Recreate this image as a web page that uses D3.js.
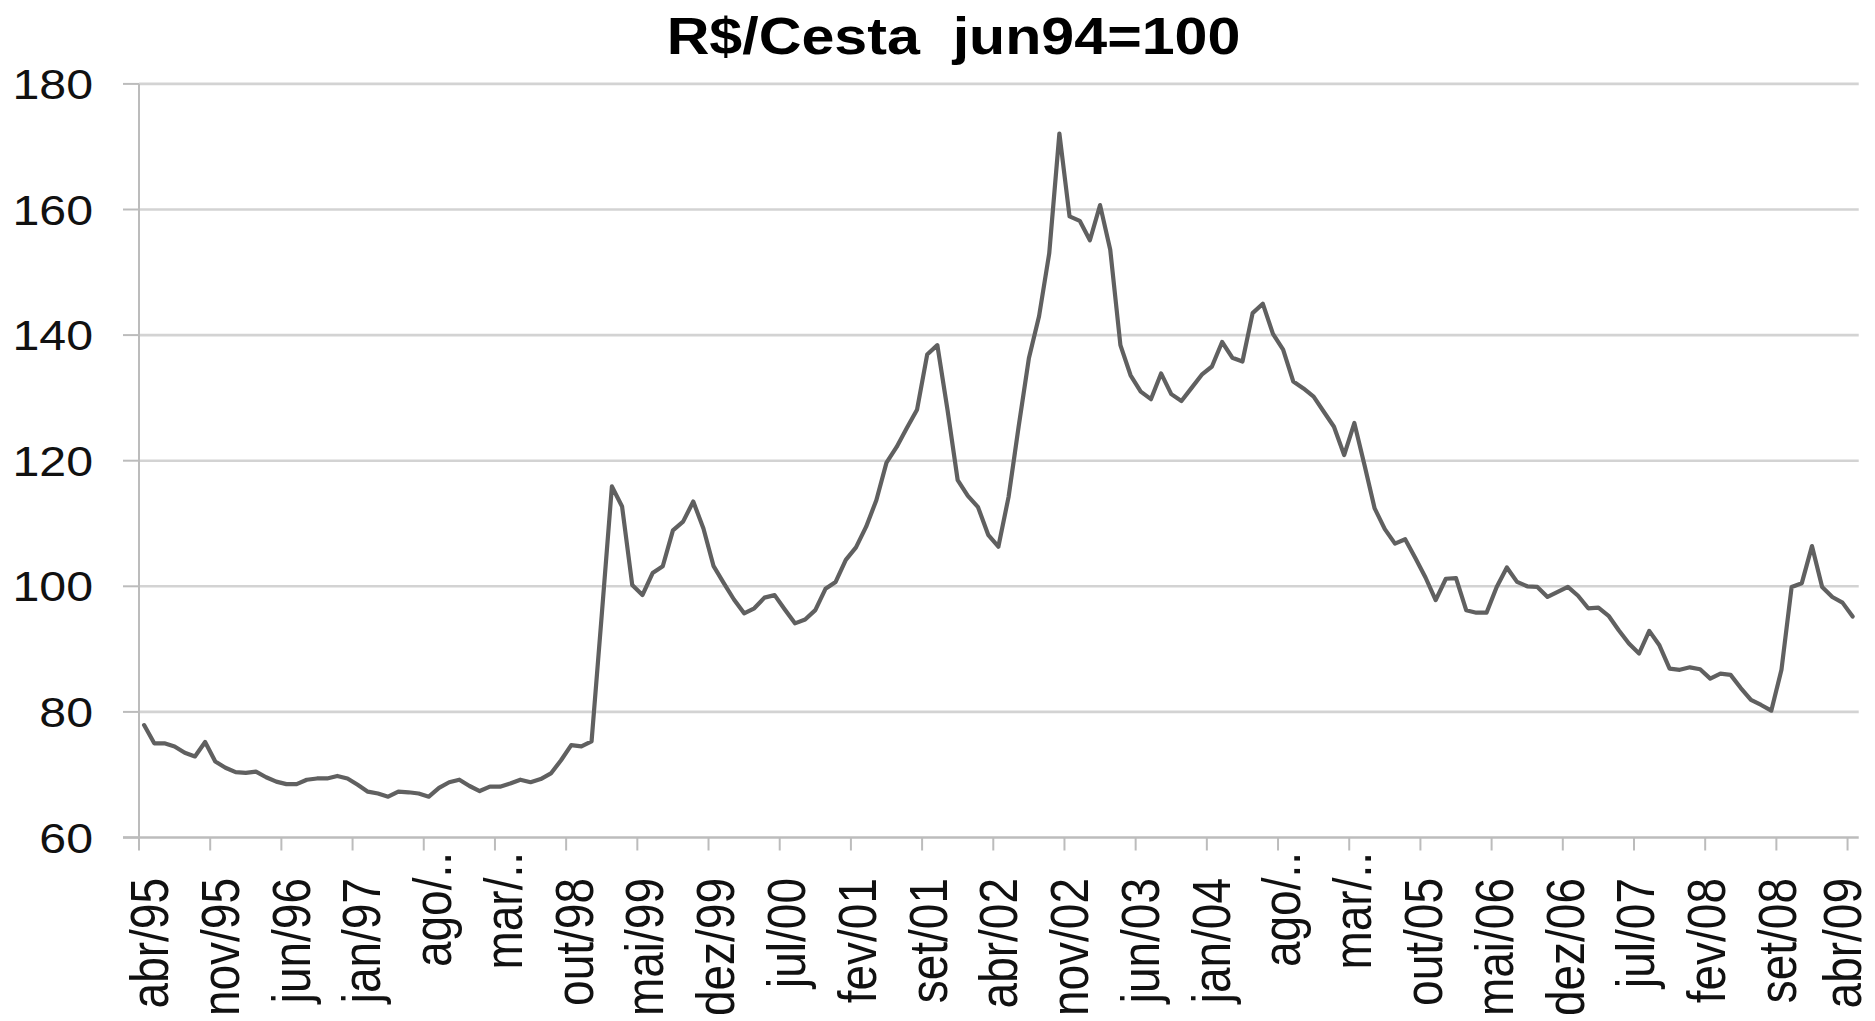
<!DOCTYPE html>
<html><head><meta charset="utf-8">
<script src="https://cdn.jsdelivr.net/npm/d3@7"></script>
<style>html,body{margin:0;padding:0;background:#fff;overflow:hidden;} svg{display:block;}</style>
</head><body>
<svg id="chart" width="1875" height="1021"></svg>
<script>
const title = "R$/Cesta  jun94=100";
// monthly index, abr/95 .. abr/09 (169 months)
const values = [
 77.9, 75.0, 75.0, 74.5, 73.5, 72.9, 75.2, 72.1, 71.1, 70.4,
 70.3, 70.5, 69.6, 68.9, 68.5, 68.5, 69.2, 69.4, 69.4, 69.8,
 69.4, 68.4, 67.3, 67.0, 66.5, 67.3, 67.2, 67.0, 66.5, 67.9,
 68.8, 69.2, 68.2, 67.4, 68.1, 68.1, 68.6, 69.2, 68.8, 69.3,
 70.2, 72.3, 74.7, 74.5, 75.3, 95.4, 115.9, 112.7, 100.2, 98.6,
 102.1, 103.2, 108.9, 110.3, 113.5, 109.2, 103.2, 100.5, 97.9, 95.7,
 96.5, 98.2, 98.6, 96.3, 94.1, 94.7, 96.2, 99.6, 100.7, 104.2,
 106.2, 109.5, 113.7, 119.7, 122.2, 125.2, 128.1, 136.9, 138.4, 128.1,
 116.9, 114.4, 112.6, 108.2, 106.3, 114.2, 125.5, 136.3, 143.0, 153.0,
 172.1, 158.9, 158.2, 155.1, 160.7, 153.6, 138.4, 133.6, 131.0, 129.8,
 133.9, 130.6, 129.5, 131.6, 133.7, 135.0, 138.9, 136.4, 135.8, 143.5,
 145.0, 140.2, 137.7, 132.6, 131.5, 130.2, 127.8, 125.4, 120.9, 126.0,
 119.3, 112.4, 109.1, 106.8, 107.5, 104.5, 101.4, 97.8, 101.2, 101.3,
 96.2, 95.8, 95.8, 99.9, 103.0, 100.7, 100.0, 99.9, 98.3, 99.1,
 99.9, 98.5, 96.5, 96.6, 95.3, 93.0, 90.9, 89.3, 92.9, 90.6,
 86.9, 86.7, 87.1, 86.8, 85.3, 86.1, 85.9, 83.8, 81.9, 81.1,
 80.2, 86.7, 99.9, 100.5, 106.4, 99.9, 98.3, 97.4, 95.2
];
const tickLabels = ["abr/95","nov/95","jun/96","jan/97","ago/..","mar/..","out/98","mai/99","dez/99",
  "jul/00","fev/01","set/01","abr/02","nov/02","jun/03","jan/04","ago/..","mar/..","out/05",
  "mai/06","dez/06","jul/07","fev/08","set/08","abr/09"];
const tickStep = 7;
const yTicks = [60, 80, 100, 120, 140, 160, 180];

const FONT = "'Liberation Sans', Arial, sans-serif";
const SX = 1.15; // horizontal stretch of the source picture's text
const svg = d3.select("#chart");

const xs = d3.scaleBand().domain(d3.range(values.length)).range([139, 139 + values.length * 10.17]);
const y = d3.scaleLinear().domain([60, 180]).range([837.5, 83.9]);
const xLeft = xs.range()[0], xRight = xs.range()[1] + 1;

const grid = "#d3d3d3", axisC = "#bcbcbc";

// gridlines
svg.append("g").selectAll("line").data(yTicks.filter(v => v !== 60)).join("line")
  .attr("x1", xLeft).attr("x2", xRight)
  .attr("y1", d => y(d)).attr("y2", d => y(d))
  .attr("stroke", grid).attr("stroke-width", 2.6);

// left ticks
svg.append("g").selectAll("line").data(yTicks).join("line")
  .attr("x1", xLeft - 16).attr("x2", xLeft)
  .attr("y1", d => y(d)).attr("y2", d => y(d))
  .attr("stroke", axisC).attr("stroke-width", 2);

// y axis line
svg.append("line").attr("x1", xLeft).attr("x2", xLeft)
  .attr("y1", y(180)).attr("y2", y(60)).attr("stroke", axisC).attr("stroke-width", 2);
// x axis line
svg.append("line").attr("x1", xLeft - 16).attr("x2", xRight)
  .attr("y1", y(60)).attr("y2", y(60)).attr("stroke", axisC).attr("stroke-width", 2.4);

// x ticks at category boundaries
const tickIdx = tickLabels.map((_, k) => k * tickStep);
svg.append("g").selectAll("line").data(tickIdx).join("line")
  .attr("x1", d => xs(d)).attr("x2", d => xs(d))
  .attr("y1", y(60)).attr("y2", y(60) + 13)
  .attr("stroke", axisC).attr("stroke-width", 2);

// y labels
svg.append("g").selectAll("text").data(yTicks).join("text")
  .attr("transform", d => `translate(93,${y(d)}) scale(${SX},1)`)
  .attr("text-anchor", "end").attr("dy", "0.36em")
  .attr("font-family", FONT).attr("font-size", 42).attr("fill", "#111")
  .text(d => d);

// x labels
const nL = tickLabels.length;
svg.append("g").selectAll("text").data(tickLabels).join("text")
  .attr("transform", (d, k) => {
    let cx = xs(k * tickStep) + xs.bandwidth() / 2 + 24 - 10 * k / (nL - 1);
    cx = Math.min(cx, 1861);
    const top = d.endsWith("..") ? 852 : 878;
    return `translate(${cx},${top}) scale(${SX},1) rotate(-90)`;
  })
  .attr("text-anchor", "end")
  .attr("font-family", FONT).attr("font-size", 46).attr("fill", "#111")
  .text(d => d);

// data line
const line = d3.line().x((d, i) => xs(i) + xs.bandwidth() / 2).y(d => y(d));
svg.append("path").datum(values).attr("d", line)
  .attr("fill", "none").attr("stroke", "#606060").attr("stroke-width", 4.2)
  .attr("stroke-linejoin", "round").attr("stroke-linecap", "round");

// title
svg.append("text").attr("transform", `translate(953.5,54) scale(1.16,1)`)
  .attr("text-anchor", "middle").attr("font-family", FONT).attr("font-weight", "bold")
  .attr("font-size", 51).attr("fill", "#000").style("white-space", "pre")
  .attr("xml:space", "preserve").text(title);
</script>
</body></html>
